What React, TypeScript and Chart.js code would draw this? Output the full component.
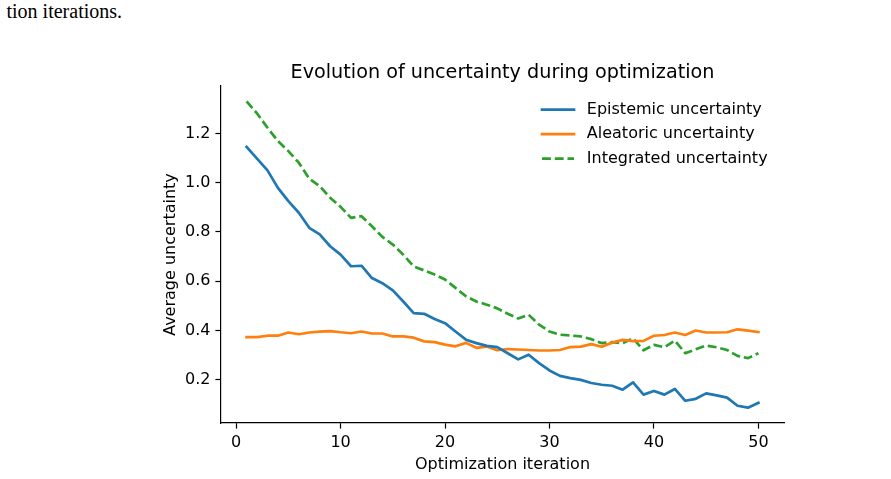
import React, { useEffect, useRef } from "react";
import { Chart, registerables } from "chart.js";

Chart.register(...registerables);

// Average uncertainty per optimization iteration (iterations 1..50)
const EPISTEMIC = [
  1.145, 1.098, 1.05, 0.979, 0.925, 0.878, 0.817, 0.79, 0.742, 0.708,
  0.661, 0.663, 0.613, 0.592, 0.563, 0.518, 0.471, 0.468, 0.447, 0.43,
  0.396, 0.363, 0.349, 0.338, 0.333, 0.308, 0.283, 0.302, 0.268, 0.238,
  0.216, 0.207, 0.2, 0.187, 0.18, 0.176, 0.16, 0.19, 0.14, 0.155,
  0.14, 0.163, 0.115, 0.123, 0.145, 0.137, 0.128, 0.095, 0.087, 0.107,
];

const ALEATORIC = [
  0.373, 0.373, 0.379, 0.379, 0.392, 0.385, 0.392, 0.396, 0.398, 0.393,
  0.389, 0.396, 0.388, 0.388, 0.376, 0.376, 0.371, 0.356, 0.353, 0.343,
  0.336, 0.35, 0.33, 0.335, 0.32, 0.325, 0.323, 0.321, 0.319, 0.319,
  0.321, 0.333, 0.335, 0.345, 0.334, 0.351, 0.362, 0.357, 0.358, 0.379,
  0.382, 0.392, 0.382, 0.4, 0.392, 0.392, 0.393, 0.405, 0.4, 0.394,
];

const INTEGRATED = [
  1.33, 1.281, 1.223, 1.169, 1.128, 1.081, 1.016, 0.986, 0.939, 0.902,
  0.857, 0.864, 0.823, 0.78, 0.749, 0.708, 0.66, 0.644, 0.627, 0.607,
  0.573, 0.539, 0.518, 0.505, 0.49, 0.468, 0.449, 0.464, 0.424, 0.396,
  0.383, 0.38, 0.376, 0.365, 0.349, 0.353, 0.349, 0.368, 0.32, 0.342,
  0.332, 0.359, 0.308, 0.324, 0.339, 0.332, 0.321, 0.297, 0.288, 0.308,
];

const X_TICKS = [0, 10, 20, 30, 40, 50];
const Y_TICKS = [0.2, 0.4, 0.6, 0.8, 1.0, 1.2];

const SERIES_LABELS = [
  "Epistemic uncertainty",
  "Aleatoric uncertainty",
  "Integrated uncertainty",
];

const TITLE = "Evolution of uncertainty during optimization";
const X_LABEL = "Optimization iteration";
const Y_LABEL = "Average uncertainty";

const FONT = "'DejaVu Sans', 'Noto Sans', sans-serif";

// Axis limits with a 5% margin around the data, like matplotlib's autoscale
const allX = EPISTEMIC.map((_, i) => i + 1);
const allY = [...EPISTEMIC, ...ALEATORIC, ...INTEGRATED];
const xLo = Math.min(...allX);
const xHi = Math.max(...allX);
const yLo = Math.min(...allY);
const yHi = Math.max(...allY);
const X_MIN = xLo - 0.05 * (xHi - xLo);
const X_MAX = xHi + 0.05 * (xHi - xLo);
const Y_MIN = yLo - 0.05 * (yHi - yLo);
const Y_MAX = yHi + 0.05 * (yHi - yLo);

const toPoints = (values: number[]) => values.map((v, i) => ({ x: i + 1, y: v }));

const LINE_W = 2.7;

// Legend drawn inside the plot area, upper right, without a frame
const innerLegend = {
  id: "innerLegend",
  afterDatasetsDraw(chart: any) {
    const { ctx, chartArea } = chart;
    const datasets = chart.data.datasets;
    ctx.save();
    ctx.font = `16px ${FONT}`;
    const maxW = Math.max(...datasets.map((d: any) => ctx.measureText(d.label).width));
    const textX = chartArea.right - 16.4 - maxW;
    const handleLen = 32;
    const lineX0 = textX - 12.8 - handleLen;
    datasets.forEach((d: any, i: number) => {
      const y = chartArea.top + 23.5 + i * 24.5;
      ctx.beginPath();
      ctx.strokeStyle = d.borderColor;
      ctx.lineWidth = d.borderWidth;
      ctx.setLineDash(d.borderDash || []);
      ctx.lineCap = d.borderDash ? "butt" : "square";
      ctx.moveTo(lineX0, y);
      ctx.lineTo(lineX0 + handleLen, y);
      ctx.stroke();
      ctx.setLineDash([]);
      ctx.fillStyle = "#000";
      ctx.textBaseline = "middle";
      ctx.textAlign = "left";
      ctx.fillText(d.label, textX, y);
    });
    ctx.restore();
  },
};

export default function App() {
  const canvasRef = useRef<HTMLCanvasElement | null>(null);

  useEffect(() => {
    const canvas = canvasRef.current;
    if (!canvas) return;

    const tickFont = { family: FONT, size: 16, weight: "normal" as const, lineHeight: 1.2 };

    const chart = new Chart(canvas, {
      type: "line",
      data: {
        datasets: [
          {
            label: SERIES_LABELS[0],
            data: toPoints(EPISTEMIC),
            borderColor: "#1f77b4",
            borderWidth: LINE_W,
            borderCapStyle: "square",
            borderJoinStyle: "round",
            pointRadius: 0,
            tension: 0,
            fill: false,
          },
          {
            label: SERIES_LABELS[1],
            data: toPoints(ALEATORIC),
            borderColor: "#ff7f0e",
            borderWidth: LINE_W,
            borderCapStyle: "square",
            borderJoinStyle: "round",
            pointRadius: 0,
            tension: 0,
            fill: false,
          },
          {
            label: SERIES_LABELS[2],
            data: toPoints(INTEGRATED),
            borderColor: "#2ca02c",
            borderWidth: LINE_W,
            borderDash: [8.9, 3.84],
            borderCapStyle: "butt",
            borderJoinStyle: "round",
            pointRadius: 0,
            tension: 0,
            fill: false,
          },
        ],
      },
      options: {
        responsive: false,
        animation: false,
        devicePixelRatio: 1,
        layout: { padding: { left: 150, right: 107, top: 0, bottom: 0 } },
        plugins: {
          legend: { display: false },
          tooltip: { enabled: false },
          title: {
            display: true,
            text: TITLE,
            fullSize: false,
            color: "#000",
            font: { family: FONT, size: 19.2, weight: "normal", lineHeight: 1.2 },
            padding: { top: 61, bottom: 2 },
          },
        },
        scales: {
          x: {
            type: "linear",
            min: X_MIN,
            max: X_MAX,
            afterBuildTicks: (s: any) => {
              s.ticks = X_TICKS.map((v) => ({ value: v }));
            },
            afterFit: (s: any) => {
              s.height = 56;
            },
            grid: {
              drawOnChartArea: false,
              drawTicks: true,
              tickLength: 5.6,
              tickWidth: 1.2,
              color: "#000",
            },
            border: { display: true, color: "#000", width: 1.2 },
            ticks: {
              color: "#000",
              font: tickFont,
              padding: 4.5,
              maxRotation: 0,
              autoSkip: false,
              callback: (v: any) => String(v),
            },
            title: {
              display: true,
              text: X_LABEL,
              color: "#000",
              font: tickFont,
              padding: { top: 0, bottom: 5 },
            },
          },
          y: {
            type: "linear",
            min: Y_MIN,
            max: Y_MAX,
            afterBuildTicks: (s: any) => {
              s.ticks = Y_TICKS.map((v) => ({ value: v }));
            },
            afterFit: (s: any) => {
              s.width = 71;
            },
            grid: {
              drawOnChartArea: false,
              drawTicks: true,
              tickLength: 5.6,
              tickWidth: 1.2,
              color: "#000",
            },
            border: { display: true, color: "#000", width: 1.2 },
            ticks: {
              color: "#000",
              font: tickFont,
              padding: 5,
              autoSkip: false,
              callback: (v: any) => Number(v).toFixed(1),
            },
            title: {
              display: true,
              text: Y_LABEL,
              color: "#000",
              font: tickFont,
              padding: { top: 11, bottom: 0 },
            },
          },
        },
      },
      plugins: [innerLegend],
    });

    return () => chart.destroy();
  }, []);

  return (
    <div
      style={{
        position: "fixed",
        left: 0,
        top: 0,
        width: 891,
        height: 479,
        background: "#fff",
        overflow: "hidden",
      }}
    >
      <div
        style={{
          position: "absolute",
          left: 6.5,
          top: 0,
          font: '20px "Liberation Serif", "Times New Roman", serif',
          color: "#000",
          whiteSpace: "nowrap",
        }}
      >
        tion iterations.
      </div>
      <canvas
        ref={canvasRef}
        width={891}
        height={479}
        style={{ position: "absolute", left: 0, top: 0, width: 891, height: 479 }}
      />
    </div>
  );
}
